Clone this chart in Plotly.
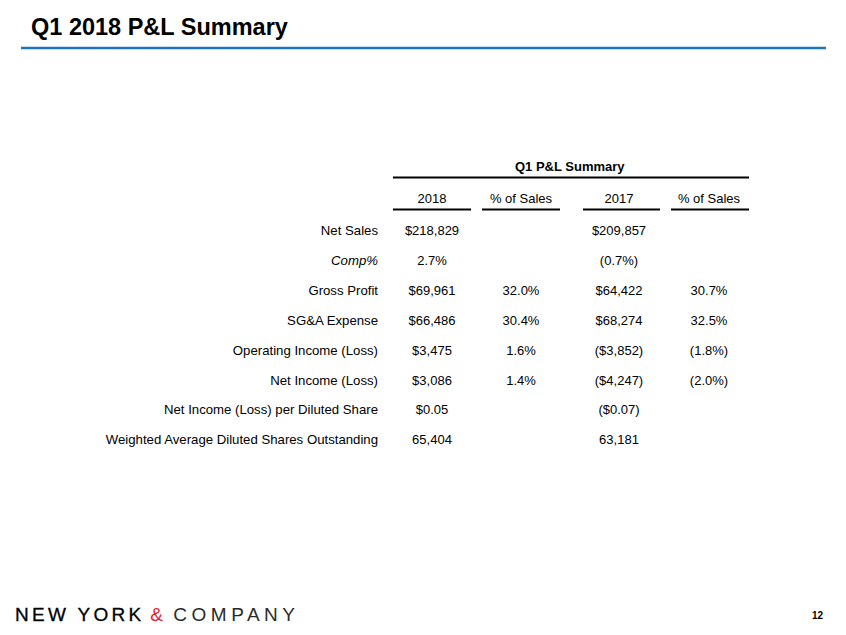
import plotly.graph_objects as go

# ---------------- data ----------------
title_text = "Q1 2018 P&L Summary"
table_title = "Q1 P&L Summary"
col_headers = ["2018", "% of Sales", "2017", "% of Sales"]
row_labels = [
    "Net Sales",
    "Comp%",
    "Gross Profit",
    "SG&A Expense",
    "Operating Income (Loss)",
    "Net Income (Loss)",
    "Net Income (Loss) per Diluted Share",
    "Weighted Average Diluted Shares Outstanding",
]
row_kind = ["usd", "pct", "usd", "usd", "usd", "usd", "eps", "shares"]
values_2018 = [218829, 2.7, 69961, 66486, 3475, 3086, 0.05, 65404]
pct_sales_2018 = [None, None, 32.0, 30.4, 1.6, 1.4, None, None]
values_2017 = [209857, -0.7, 64422, 68274, -3852, -4247, -0.07, 63181]
pct_sales_2017 = [None, None, 30.7, 32.5, -1.8, -2.0, None, None]
page_number = "12"


def fmt(v, kind):
    if v is None:
        return ""
    neg = v < 0
    a = abs(v)
    if kind == "usd":
        s = "${:,.0f}".format(a)
    elif kind == "pct":
        s = "{:.1f}%".format(a)
    elif kind == "eps":
        s = "${:.2f}".format(a)
    else:
        s = "{:,.0f}".format(a)
    return "(" + s + ")" if neg else s


FONT = "Arial, 'Liberation Sans', sans-serif"
W, H = 846, 635

# layout positions (pixels)
row_y0, row_step = 232, 29.85
row_y = [row_y0 + row_step * i for i in range(len(row_labels))]
label_x = 378
col_x = [432, 521, 619, 709]
col_spans = [(393, 471), (482, 560), (583, 660), (671, 749)]

fig = go.Figure()

# row labels (Comp% italic)
lbl_text = ["<i>%s</i>" % t if k == "pct" else t for t, k in zip(row_labels, row_kind)]
fig.add_trace(go.Scatter(
    x=[label_x] * len(row_labels), y=row_y, text=lbl_text, mode="text",
    textposition="middle left", textfont=dict(family=FONT, size=13.2, color="#000"),
    hoverinfo="skip", showlegend=False))

columns = [
    [fmt(v, k) for v, k in zip(values_2018, row_kind)],
    [fmt(v, "pct") for v in pct_sales_2018],
    [fmt(v, k) for v, k in zip(values_2017, row_kind)],
    [fmt(v, "pct") for v in pct_sales_2017],
]
for cx, ctext in zip(col_x, columns):
    fig.add_trace(go.Scatter(
        x=[cx] * len(ctext), y=row_y, text=ctext, mode="text",
        textposition="middle center", textfont=dict(family=FONT, size=13, color="#000"),
        hoverinfo="skip", showlegend=False))

# column headers
fig.add_trace(go.Scatter(
    x=col_x, y=[200] * 4, text=col_headers, mode="text",
    textposition="middle center", textfont=dict(family=FONT, size=13, color="#000"),
    hoverinfo="skip", showlegend=False))

shapes = []
# table title rule
shapes.append(dict(type="line", xref="x", yref="y", x0=393, x1=749, y0=177.5, y1=177.5,
                   line=dict(color="#000", width=2)))
for a, b in col_spans:
    shapes.append(dict(type="line", xref="x", yref="y", x0=a, x1=b, y0=209.5, y1=209.5,
                       line=dict(color="#000", width=2)))
# blue rule under title
shapes.append(dict(type="line", xref="x", yref="y", x0=21, x1=826, y0=48, y1=48,
                   line=dict(color="#1f73c4", width=2.5)))

annotations = [
    dict(x=29, y=27, xref="x", yref="y", text="<b>%s</b>" % title_text, showarrow=False,
         xanchor="left", yanchor="middle", font=dict(family=FONT, size=23.5, color="#000")),
    dict(x=570, y=166, xref="x", yref="y", text="<b>%s</b>" % table_title, showarrow=False,
         xanchor="center", yanchor="middle", font=dict(family=FONT, size=13, color="#000")),
    dict(x=13, y=614, xref="x", yref="y",
         text=("<span style='letter-spacing:3.3px;color:#000;stroke:#000;stroke-width:0.3px'>NEW YORK</span>"
               "<span style='color:#e5202e;letter-spacing:2px'>&#8201;&amp;</span>"
               "<span style='letter-spacing:4.5px;color:#2a2a2a'>&#8201;COMPANY</span>"),
         showarrow=False, xanchor="left", yanchor="middle",
         font=dict(family=FONT, size=19, color="#1a1a1a")),
    dict(x=826, y=615, xref="x", yref="y", text="<b>%s</b>" % page_number, showarrow=False,
         xanchor="right", yanchor="middle", font=dict(family=FONT, size=10, color="#000")),
]

fig.update_layout(
    width=W, height=H, margin=dict(l=0, r=0, t=0, b=0),
    paper_bgcolor="white", plot_bgcolor="white",
    xaxis=dict(range=[0, W], visible=False, fixedrange=True),
    yaxis=dict(range=[H, 0], visible=False, fixedrange=True),
    shapes=shapes, annotations=annotations, showlegend=False,
)

fig.write_html("out.html", config={"displayModeBar": False},
               post_script="document.body.style.margin='0px';document.body.style.overflow='hidden';")
